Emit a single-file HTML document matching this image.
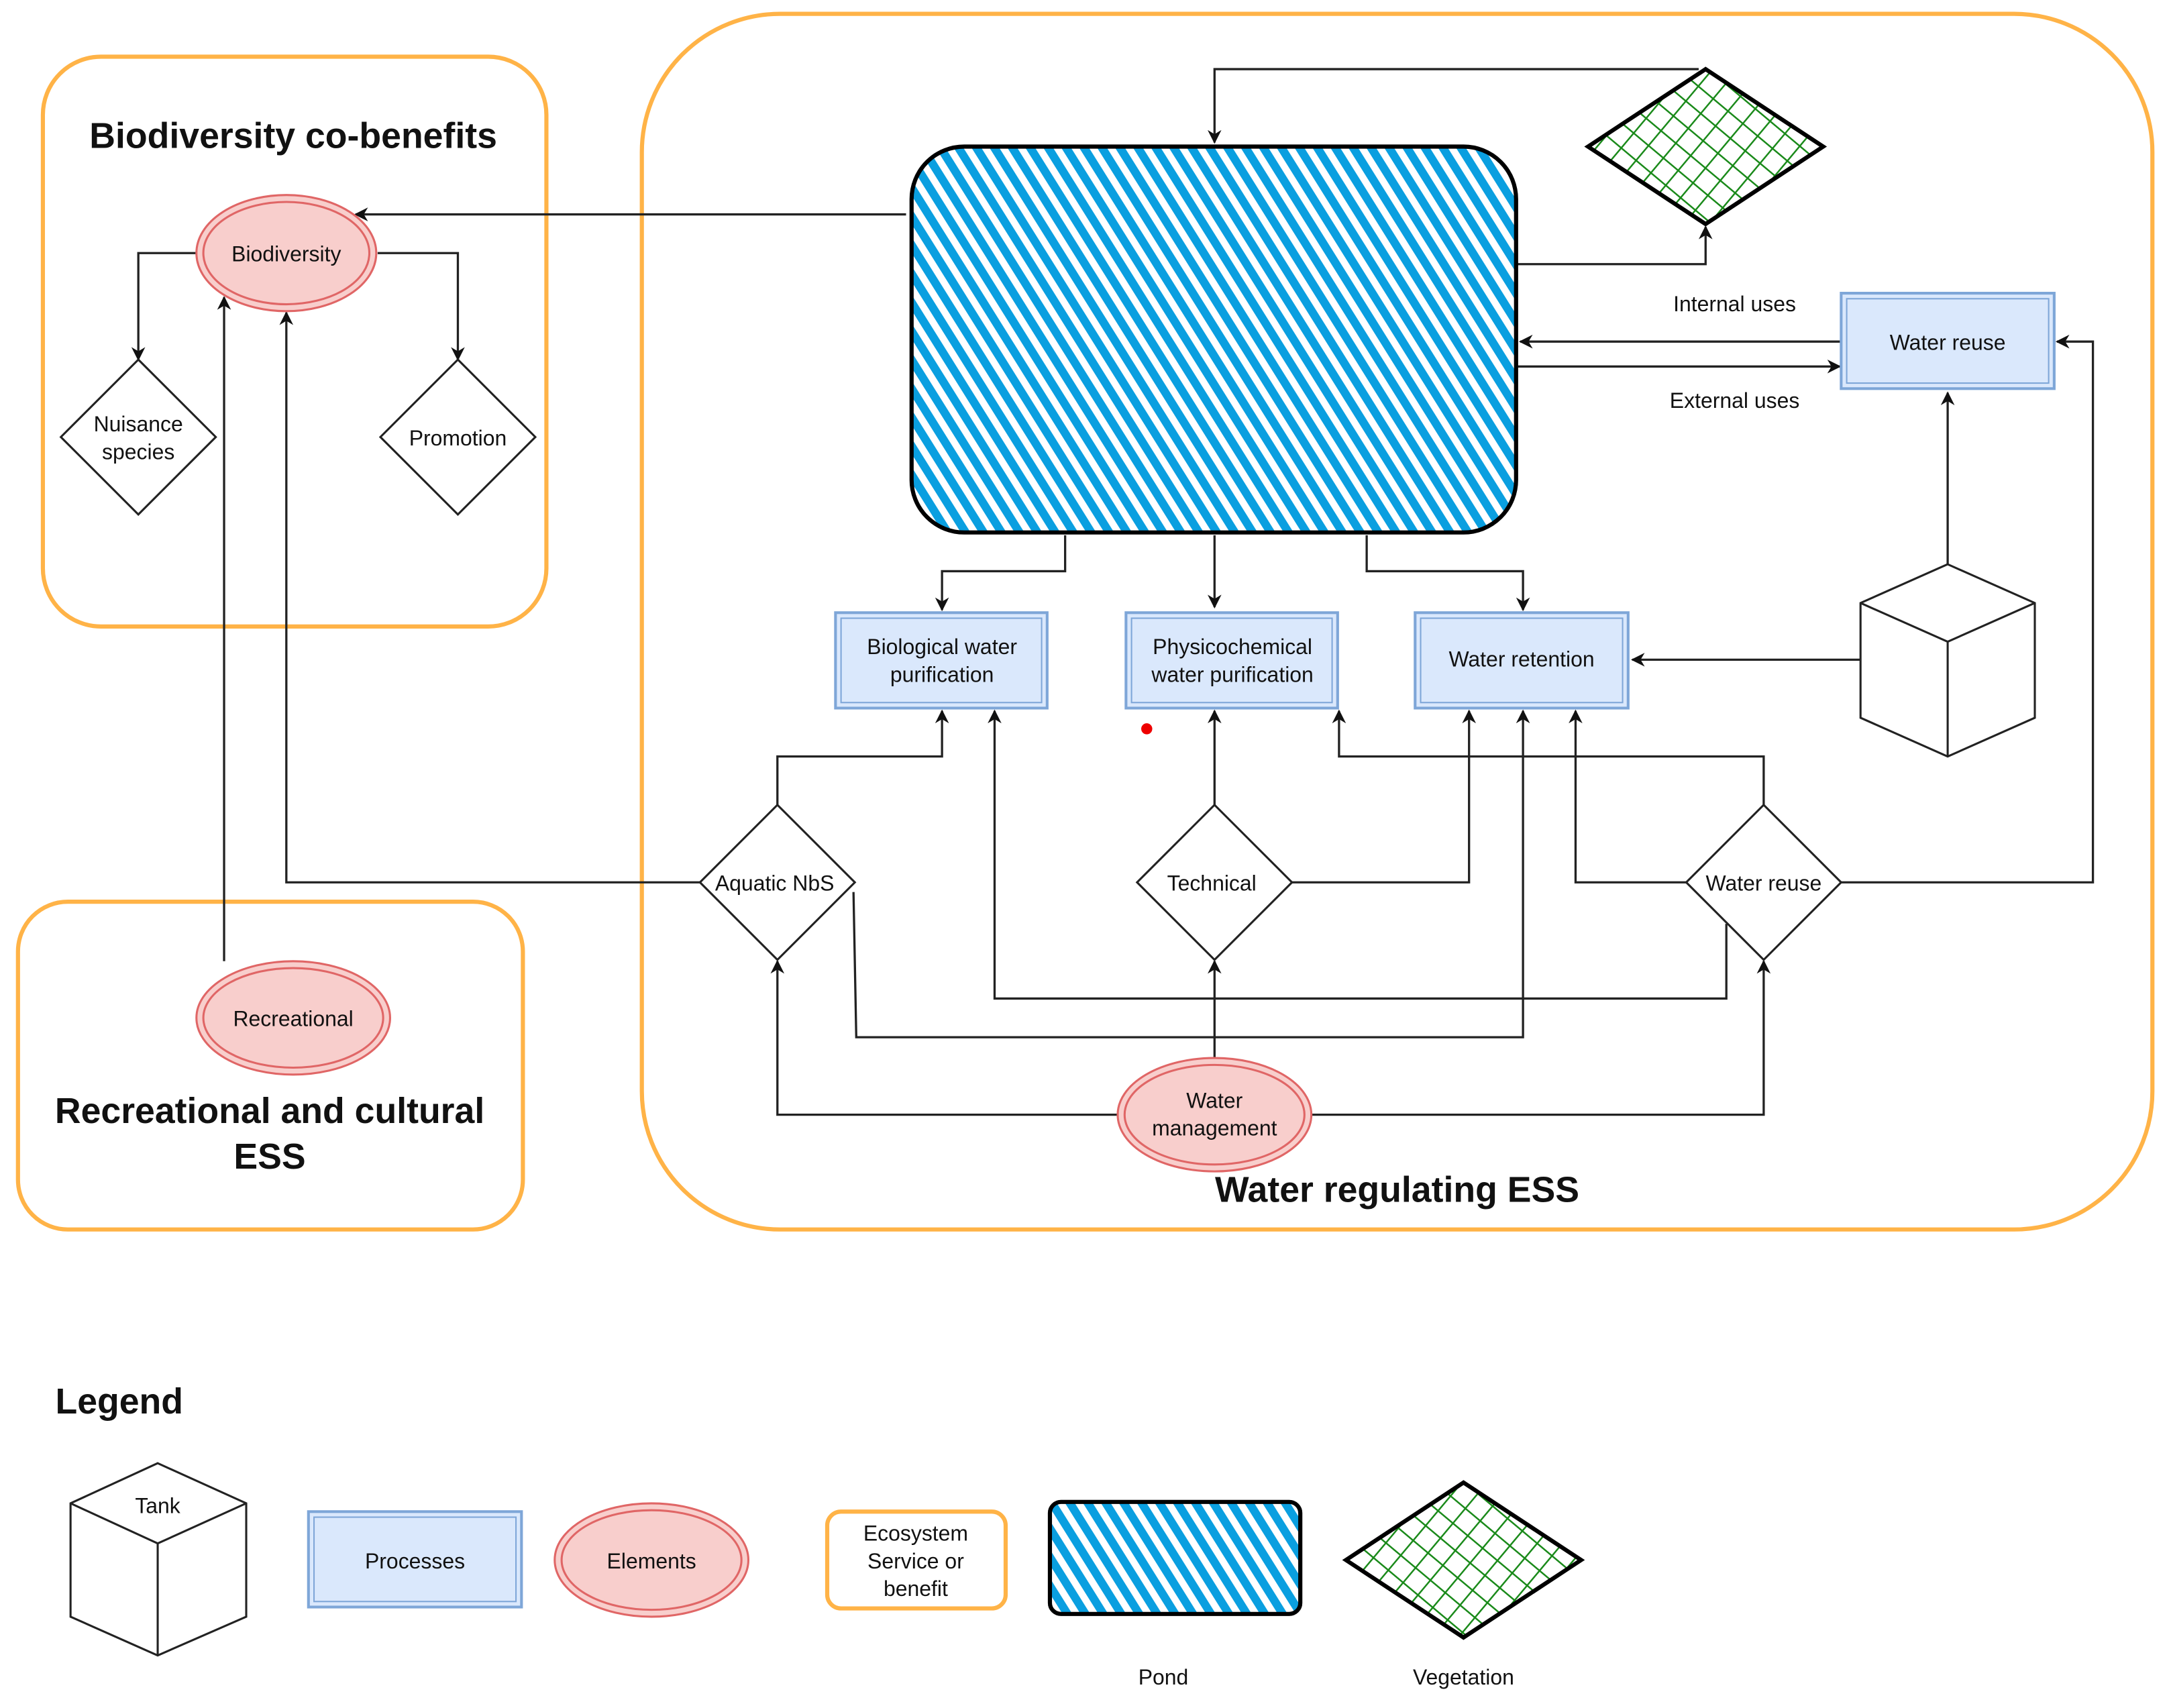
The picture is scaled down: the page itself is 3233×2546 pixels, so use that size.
<!DOCTYPE html>
<html><head><meta charset="utf-8"><style>
html,body{margin:0;padding:0;background:#fff;}
svg{display:block;}
text{font-family:"Liberation Sans",Arial,sans-serif;fill:#111;}
</style></head><body>
<svg width="3233" height="2546" viewBox="0 0 1568 1235" preserveAspectRatio="none" xmlns="http://www.w3.org/2000/svg">
<defs>
<pattern id="hatch" patternUnits="userSpaceOnUse" width="11" height="11" patternTransform="rotate(-32)">
<rect width="11" height="11" fill="#fff"/><rect x="0" y="0" width="6" height="11" fill="#0a9fe0"/>
</pattern>
<pattern id="grid" patternUnits="userSpaceOnUse" width="14" height="14" patternTransform="rotate(40)">
<rect width="14" height="14" fill="#fff"/>
<line x1="0" y1="0" x2="0" y2="14" stroke="#1a8a1a" stroke-width="2.4"/>
<line x1="0" y1="0" x2="14" y2="0" stroke="#1a8a1a" stroke-width="2.4"/>
</pattern>
<marker id="a" markerWidth="10" markerHeight="10" refX="9" refY="5" orient="auto" markerUnits="userSpaceOnUse">
<path d="M0,0 L10,5 L0,10 L3,5 z" fill="#111"/></marker>
</defs>

<!-- group boxes -->
<g fill="none" stroke="#ffb347" stroke-width="3">
<rect x="31" y="41" width="364" height="412" rx="42"/>
<rect x="13" y="652" width="365" height="237" rx="36"/>
<rect x="464" y="10" width="1092" height="879" rx="100"/>
</g>

<!-- connectors -->
<g fill="none" stroke="#222" stroke-width="1.6">
<path d="M655,155 H257" marker-end="url(#a)"/>
<path d="M142,183 H100 V260" marker-end="url(#a)"/>
<path d="M273,183 H331 V260" marker-end="url(#a)"/>
<path d="M162,695 V215" marker-end="url(#a)"/>
<path d="M506,638 H207 V226" marker-end="url(#a)"/>
<path d="M562,582 V547 H681 V514" marker-end="url(#a)"/>
<path d="M617,645 L619,750 H1101 V514" marker-end="url(#a)"/>
<path d="M770,387 V413 H681 V441" marker-end="url(#a)"/>
<path d="M878,387 V439" marker-end="url(#a)"/>
<path d="M988,387 V413 H1101 V441" marker-end="url(#a)"/>
<path d="M1228,50 H878 V103" marker-end="url(#a)"/>
<path d="M1097,191 H1233 V164" marker-end="url(#a)"/>
<path d="M1331,247 H1099" marker-end="url(#a)"/>
<path d="M1097,265 H1330" marker-end="url(#a)"/>
<path d="M1408,408 V284" marker-end="url(#a)"/>
<path d="M1345,477 H1180" marker-end="url(#a)"/>
<path d="M878,582 V514" marker-end="url(#a)"/>
<path d="M934,638 H1062 V514" marker-end="url(#a)"/>
<path d="M1275,582 V547 H968 V514" marker-end="url(#a)"/>
<path d="M1219,638 H1139 V514" marker-end="url(#a)"/>
<path d="M1331,638 H1513 V247 H1487" marker-end="url(#a)"/>
<path d="M1248,668 V722 H719 V514" marker-end="url(#a)"/>
<path d="M878,766 V695" marker-end="url(#a)"/>
<path d="M808,806 H562 V695" marker-end="url(#a)"/>
<path d="M948,806 H1275 V695" marker-end="url(#a)"/>
</g>

<!-- pond -->
<rect x="659" y="106" width="437" height="279" rx="38" fill="url(#hatch)" stroke="#000" stroke-width="3"/>
<!-- vegetation -->
<polygon points="1148,106 1233,50 1318,106 1233,162" fill="url(#grid)" stroke="#000" stroke-width="3"/>

<!-- process boxes -->
<g fill="#dae8fc" stroke="#7ea6d8" stroke-width="2">
<rect x="1331" y="212" width="154" height="69"/><rect x="1335" y="216" width="146" height="61" fill="none" stroke-width="1"/>
<rect x="604" y="443" width="153" height="69"/><rect x="608" y="447" width="145" height="61" fill="none" stroke-width="1"/>
<rect x="814" y="443" width="153" height="69"/><rect x="818" y="447" width="145" height="61" fill="none" stroke-width="1"/>
<rect x="1023" y="443" width="154" height="69"/><rect x="1027" y="447" width="146" height="61" fill="none" stroke-width="1"/>
<rect x="223" y="1093" width="154" height="69"/><rect x="227" y="1097" width="146" height="61" fill="none" stroke-width="1"/>
</g>

<!-- ellipses -->
<g fill="#f8cecc" stroke="#e06666" stroke-width="1.5">
<ellipse cx="207" cy="183" rx="65" ry="42"/><ellipse cx="207" cy="183" rx="60" ry="37" fill="none"/>
<ellipse cx="212" cy="736" rx="70" ry="41"/><ellipse cx="212" cy="736" rx="65" ry="36" fill="none"/>
<ellipse cx="878" cy="806" rx="70" ry="41"/><ellipse cx="878" cy="806" rx="65" ry="36" fill="none"/>
<ellipse cx="471" cy="1128" rx="70" ry="41"/><ellipse cx="471" cy="1128" rx="65" ry="36" fill="none"/>
</g>

<!-- diamonds -->
<g fill="#fff" stroke="#222" stroke-width="1.5">
<polygon points="100,260 156,316 100,372 44,316"/>
<polygon points="331,260 387,316 331,372 275,316"/>
<polygon points="562,582 618,638 562,694 506,638"/>
<polygon points="878,582 934,638 878,694 822,638"/>
<polygon points="1275,582 1331,638 1275,694 1219,638"/>
</g>

<!-- cubes -->
<g fill="#fff" stroke="#222" stroke-width="1.5">
<polygon points="1408,408 1471,436 1471,519 1408,547 1345,519 1345,436"/>
<path d="M1345,436 L1408,464 L1471,436 M1408,464 V547" fill="none"/>
<polygon points="114,1058 178,1087 178,1169 114,1197 51,1169 51,1087"/>
<path d="M51,1087 L114,1116 L178,1087 M114,1116 V1197" fill="none"/>
</g>

<!-- legend shapes -->
<rect x="598" y="1093" width="129" height="70" rx="10" fill="#fff" stroke="#ffb347" stroke-width="3"/>
<rect x="759" y="1086" width="181" height="81" rx="8" fill="url(#hatch)" stroke="#000" stroke-width="3"/>
<polygon points="973,1128 1058,1072 1143,1128 1058,1184" fill="url(#grid)" stroke="#000" stroke-width="3"/>
<circle cx="829" cy="527" r="4" fill="#e00"/>

<!-- titles -->
<g font-weight="bold" font-size="26" text-anchor="middle">
<text x="212" y="107">Biodiversity co-benefits</text>
<text x="195" y="812">Recreational and cultural</text>
<text x="195" y="845">ESS</text>
<text x="1010" y="869">Water regulating ESS</text>
<text x="40" y="1022" text-anchor="start">Legend</text>
</g>

<!-- labels -->
<g font-size="15.5" text-anchor="middle">
<text x="207" y="189">Biodiversity</text>
<text x="100" y="312">Nuisance</text><text x="100" y="332">species</text>
<text x="331" y="322">Promotion</text>
<text x="212" y="742">Recreational</text>
<text x="1254" y="225">Internal uses</text>
<text x="1254" y="295">External uses</text>
<text x="1408" y="253">Water reuse</text>
<text x="681" y="473">Biological water</text><text x="681" y="493">purification</text>
<text x="891" y="473">Physicochemical</text><text x="891" y="493">water purification</text>
<text x="1100" y="482">Water retention</text>
<text x="560" y="644">Aquatic NbS</text>
<text x="876" y="644">Technical</text>
<text x="1275" y="644">Water reuse</text>
<text x="878" y="801">Water</text><text x="878" y="821">management</text>
<text x="114" y="1094">Tank</text>
<text x="300" y="1134">Processes</text>
<text x="471" y="1134">Elements</text>
<text x="662" y="1114">Ecosystem</text><text x="662" y="1134">Service or</text><text x="662" y="1154">benefit</text>
<text x="841" y="1218">Pond</text>
<text x="1058" y="1218">Vegetation</text>
</g>
</svg>
</body></html>
